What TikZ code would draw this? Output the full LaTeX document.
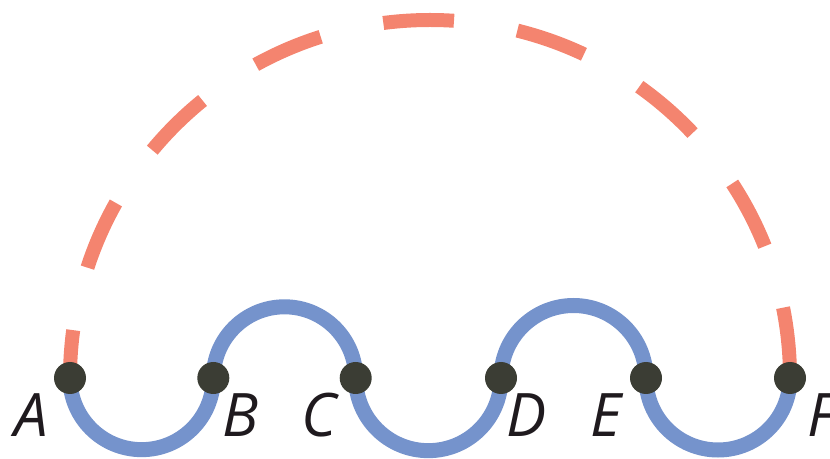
\documentclass[tikz,border=0pt]{standalone}
\usepackage{fontspec}
\newfontfamily\labfont{Open Sans}
\definecolor{arcred}{RGB}{244,132,111}
\definecolor{arcblue}{RGB}{117,147,204}
\definecolor{dotgray}{RGB}{59,61,52}
\definecolor{labblack}{RGB}{31,26,30}
\tikzset{
  dotnode/.style={circle,fill=dotgray,minimum size=32pt,inner sep=0pt},
  labnode/.style={anchor=base,inner sep=0pt,text=labblack,font=\labfont\itshape\fontsize{60}{62}\selectfont},
  bluearc/.style={draw=arcblue,line width=15pt},
  redarc/.style={draw=arcred,line width=14pt,dash pattern=on 70.8pt off 64.2pt}
}
\begin{document}
\begin{tikzpicture}[x=1pt,y=1pt]
\useasboundingbox (0,0) rectangle (830,458);
% point positions (y = 458 - image y)
\coordinate (pA) at (70,80);
\coordinate (pB) at (213.3,80);
\coordinate (pC) at (355.7,80);
\coordinate (pD) at (501,80);
\coordinate (pE) at (646,80);
\coordinate (pF) at (790,80);
% red dashed arc from F to A
\draw[redarc] (pF) arc[start angle=0,end angle=180,x radius=360pt,y radius=358pt];
% blue semicircles
\draw[bluearc] (pA) arc[start angle=180,end angle=360,radius=71.65pt];
\draw[bluearc] (pB) arc[start angle=180,end angle=0,radius=71.2pt];
\draw[bluearc] (pC) arc[start angle=180,end angle=360,radius=72.65pt];
\draw[bluearc] (pD) arc[start angle=180,end angle=0,radius=72.5pt];
\draw[bluearc] (pE) arc[start angle=180,end angle=360,radius=72pt];
% dots
\node[dotnode] (A) at (pA) {};
\node[dotnode] (B) at (pB) {};
\node[dotnode] (C) at (pC) {};
\node[dotnode] (D) at (pD) {};
\node[dotnode] (E) at (pE) {};
\node[dotnode] (F) at (pF) {};
% labels
\node[labnode] (la) at (31,21.5) {A};
\node[labnode] (lb) at (241,21.5) {B};
\node[labnode] (lc) at (319,21.5) {C};
\node[labnode] (ld) at (527,21.5) {D};
\node[labnode] (le) at (606,21.5) {E};
\node[labnode] (lf) at (822,21.5) {F};
\end{tikzpicture}
\end{document}
